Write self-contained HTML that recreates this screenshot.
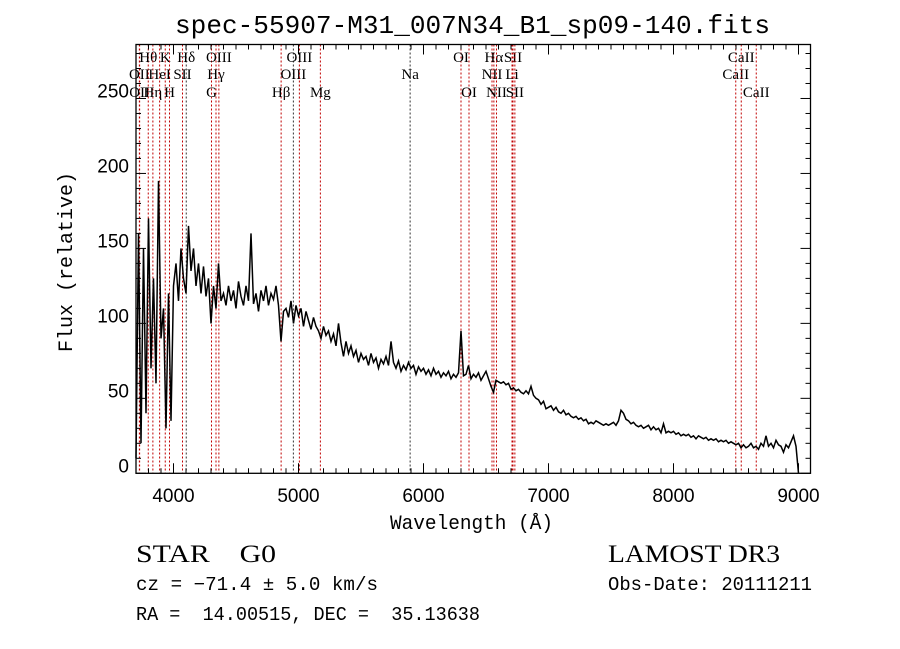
<!DOCTYPE html>
<html><head><meta charset="utf-8">
<style>
html,body{margin:0;padding:0;background:#fff;}
svg{display:block;}
</style></head>
<body>
<svg id="chart" width="900" height="649" viewBox="0 0 900 649" xmlns="http://www.w3.org/2000/svg">
<rect x="0" y="0" width="900" height="649" fill="#fff"/>
<text x="175" y="33" textLength="595" lengthAdjust="spacingAndGlyphs" font-family="Liberation Mono, monospace" font-size="26" fill="#000">spec-55907-M31_007N34_B1_sp09-140.fits</text>
<g id="lines"></g>
<g id="ticks"></g>
<path id="spec" fill="none" stroke="#000" stroke-width="1.5"/>
<rect x="136" y="44.5" width="674.5" height="428.8" fill="none" stroke="#000" stroke-width="1.3"/>
<text x="390" y="529" textLength="163" lengthAdjust="spacingAndGlyphs" font-family="Liberation Mono, monospace" font-size="20">Wavelength (Å)</text>
<text transform="translate(72,262) rotate(-90)" text-anchor="middle" font-family="Liberation Mono, monospace" font-size="20">Flux (relative)</text>
<text x="136" y="562" textLength="140" lengthAdjust="spacingAndGlyphs" font-family="Liberation Serif, serif" font-size="25" xml:space="preserve">STAR    G0</text>
<text x="608" y="562" textLength="172" lengthAdjust="spacingAndGlyphs" font-family="Liberation Serif, serif" font-size="25">LAMOST DR3</text>
<text x="136" y="590" textLength="242" lengthAdjust="spacingAndGlyphs" font-family="Liberation Mono, monospace" font-size="19" xml:space="preserve">cz = −71.4 ± 5.0 km/s</text>
<text x="608" y="590" textLength="204" lengthAdjust="spacingAndGlyphs" font-family="Liberation Mono, monospace" font-size="19">Obs-Date: 20111211</text>
<text x="136" y="620" textLength="344" lengthAdjust="spacingAndGlyphs" font-family="Liberation Mono, monospace" font-size="19" xml:space="preserve">RA =  14.00515, DEC =  35.13638</text>
</svg>
<script>
const wlStart = 3700;
const wlStep = 20;
const flux = [10,160,20,150,40,170,70,130,60,195,90,110,30,120,35,125,140,115,150,130,120,165,135,150,125,140,120,138,118,130,
100,125,110,140,115,120,112,125,115,122,110,128,118,112,125,115,160,113,120,108,122,115,125,112,120,116,125,112,88,108,
110,104,115,100,112,105,110,98,108,102,96,104,98,95,90,98,92,95,88,93,85,100,87,78,88,80,85,78,82,74,
80,76,78,72,80,74,77,70,76,73,78,72,88,74,70,75,68,72,69,74,70,72,66,71,68,70,66,69,65,70,
66,68,64,67,65,68,63,66,64,67,95,65,66,72,63,66,64,67,62,65,68,63,58,54,62,61,60,61,59,60,
56,57,55,56,54,53,55,53,58,52,50,49,46,48,43,44,45,42,44,41,40,42,39,40,38,37,38,36,37,35,
36,33,34,33,35,34,33,32,33,32,33,34,32,35,42,40,36,35,33,34,32,31,32,30,31,32,29,31,29,30,
27,33,27,28,27,28,26,27,25,26,25,26,24,25,23,25,24,23,24,22,23,22,23,21,22,21,22,20,21,20,
19,20,17,19,17,18,20,17,18,16,20,18,25,18,20,17,22,19,18,14,19,17,21,25,18,0];
const lineWl = [3727,3729,3798,3835,3889,3934,3968,4072,4102,4304,4340,4363,4861,4959,5007,5175,5893,6300,6364,6548,6563,6584,6708,6716,6731,8498,8542,8662];
const lineLabel = ["OII","OII","Hθ","Hη","HeI","K","H","SII","Hδ","G","Hγ","OIII","Hβ","OIII","OIII","Mg","Na","OI","OI","NII","Hα","NII","Li","SII","SII","CaII","CaII","CaII"];
const lineRow = [2,3,1,3,2,1,3,2,1,3,2,1,3,2,1,3,2,1,3,2,1,3,2,1,3,2,1,3];
const lineDark = [0,0,0,0,0,0,0,0,1,0,0,0,0,1,0,0,1,0,0,0,0,0,0,0,0,0,0,0];
const xTicks = [4000,5000,6000,7000,8000,9000];
const yTicks = [0,50,100,150,200,250];

const X0=136, X1=810.5, Y0=473.3, Y1=44.5, WMIN=3700, WMAX=9096, FMAX=286;
function xs(w){return X0+(w-WMIN)/(WMAX-WMIN)*(X1-X0);}
function ys(f){return Y0-f/FMAX*(Y0-Y1);}
const NS="http://www.w3.org/2000/svg";
function mk(tag,attrs,parent){const e=document.createElementNS(NS,tag);for(const k in attrs)e.setAttribute(k,attrs[k]);parent.appendChild(e);return e;}

const lg=document.getElementById('lines');
const rowY={1:62,2:79,3:97};
lineWl.forEach((w,i)=>{
  const x=xs(w);
  const l=mk('line',{x1:x,x2:x,y1:Y1,y2:Y0,stroke:lineDark[i]?'#333':'#c00000','stroke-width':1,'stroke-dasharray':'2,2'},lg);
  
  
  const t=mk('text',{x:x,y:rowY[lineRow[i]],'text-anchor':'middle','font-family':'Liberation Serif, serif','font-size':15},lg);
  t.textContent=lineLabel[i];
  
  
});

const tg=document.getElementById('ticks');
for(let w=3800;w<=9000;w+=100){
  const x=xs(w); const major=(w%1000===0); const L=major?10:5;
  mk('line',{x1:x,x2:x,y1:Y0,y2:Y0-L,stroke:'#000','stroke-width':1},tg);
  mk('line',{x1:x,x2:x,y1:Y1,y2:Y1+L,stroke:'#000','stroke-width':1},tg);
}
xTicks.forEach(w=>{
  const t=mk('text',{x:xs(w),y:502,'text-anchor':'middle','font-family':'Liberation Sans, sans-serif','font-size':19},tg);
  t.textContent=String(w);
  
  
});
for(let f=0;f<=280;f+=10){
  const y=ys(f); const major=(f%50===0); const L=major?10:5;
  mk('line',{x1:X0,x2:X0+L,y1:y,y2:y,stroke:'#000','stroke-width':1},tg);
  mk('line',{x1:X1,x2:X1-L,y1:y,y2:y,stroke:'#000','stroke-width':1},tg);
}
yTicks.forEach(f=>{
  const t=mk('text',{x:129,y:ys(f)-1,'text-anchor':'end','font-family':'Liberation Sans, sans-serif','font-size':19},tg);
  t.textContent=String(f);
  
  
});

let d='';
flux.forEach((f,i)=>{const w=wlStart+i*wlStep; d+=(i?'L':'M')+xs(w).toFixed(1)+','+ys(f).toFixed(1);});
document.getElementById('spec').setAttribute('d',d);
</script>
</body></html>
